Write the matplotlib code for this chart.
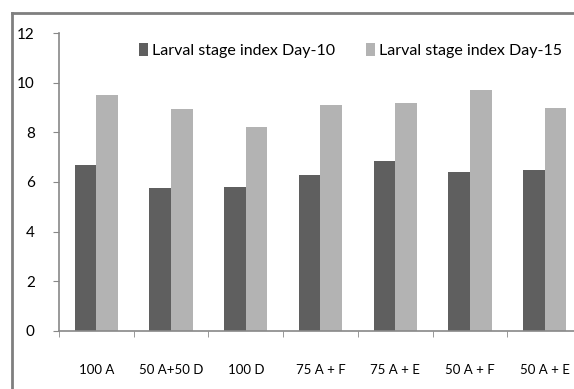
import numpy as np
import matplotlib
matplotlib.use('Agg')
import matplotlib.pyplot as plt
from matplotlib.lines import Line2D

plt.rcParams['font.family'] = ['Lato', 'DejaVu Sans']

## data
treatments = ['100 A', '50 A+50 D', '100 D', '75 A + F', '75 A + E', '50 A + F', '50 A + E']
day10 = [6.7, 5.75, 5.8, 6.3, 6.85, 6.4, 6.5]
day15 = [9.5, 8.95, 8.2, 9.1, 9.2, 9.7, 9.0]
yticks = [0, 2, 4, 6, 8, 10, 12]

dark = '#5f5f5f'
light = '#b3b3b3'
edge = '#888888'

fig = plt.figure(figsize=(5.74, 3.89), dpi=100)
# axes runs past the right edge like in the original crop
ax = fig.add_axes([0.1028, 0.150, 0.911, 0.7645])

x = np.arange(len(treatments))
w = 0.29
ax.bar(x - w / 2, day10, w, color=dark, label='Larval stage index Day-10')
ax.bar(x + w / 2, day15, w, color=light, label='Larval stage index Day-15')

ax.set_xlim(-0.5, len(treatments) - 0.5)
ax.set_ylim(0, 12)
ax.set_yticks(yticks)
ax.set_yticklabels([str(v) for v in yticks], fontsize=11)

ax.set_xticks(x)
ax.set_xticklabels(treatments, fontsize=9.5)
ax.set_xticks(np.arange(len(treatments) + 1) - 0.5, minor=True)
ax.tick_params(axis='x', which='major', length=0, pad=24)
ax.tick_params(axis='x', which='minor', length=4.5, color=edge, direction='out')
ax.tick_params(axis='y', length=4.5, color=edge, pad=13)

for s in ['top', 'right']:
    ax.spines[s].set_visible(False)
for s in ['left', 'bottom']:
    ax.spines[s].set_color(edge)
    ax.spines[s].set_linewidth(1.2)

leg = ax.legend(loc='upper left', bbox_to_anchor=(0.125, 1.015), ncol=2,
                frameon=False, fontsize=11.5, handlelength=0.6, handleheight=0.9,
                handletextpad=0.25, columnspacing=1.9)

# outer frame of the chart area (cut on the right and bottom)
fig.add_artist(Line2D([12 / 574, 12 / 574], [0, 1 - 13 / 389], color='#7f7f7f', lw=2))
fig.add_artist(Line2D([12 / 574, 1], [1 - 13 / 389, 1 - 13 / 389], color='#7f7f7f', lw=2))

fig.savefig('out.png', dpi=100)
